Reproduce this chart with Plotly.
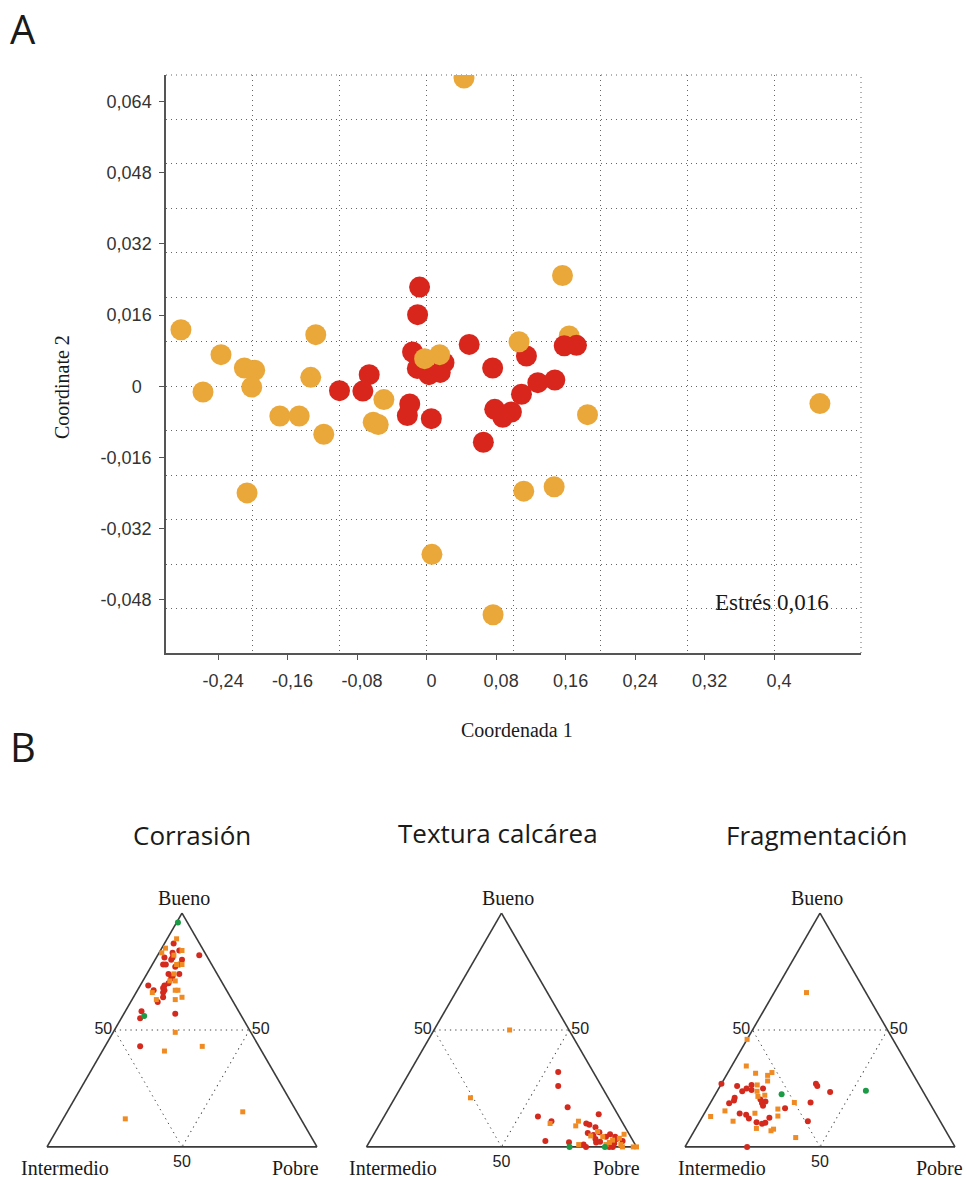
import plotly.graph_objects as go

W, H = 966, 1178

# ---------------- Panel A: MDS (Coordenada 1 / Coordinate 2) ----------------
# draw order matters for overlaps: reds, then oranges, then the two reds that sit on top
mds_grupo = (["rojo"] * 23) + (["naranja"] * 27) + (["rojo"] * 2)
mds_coord1 = [
    -0.1003, -0.0734, -0.0661, -0.0194, -0.0222, 0.0054, -0.0104, -0.0081,
    -0.0162, -0.0107, 0.0027, 0.0157, 0.0200, 0.0490, 0.0760, 0.1149,
    0.1280, 0.1476, 0.1092, 0.0784, 0.0976, 0.0876, 0.0653,
    -0.2828, -0.2367, -0.2574, -0.2098, -0.1979, -0.2013, -0.1690, -0.1467,
    -0.1334, -0.1276, -0.1184, -0.2067, -0.0492, -0.0615, -0.0557, 0.0061,
    -0.0023, 0.0150, 0.1064, 0.1641, 0.1852, 0.4527, 0.1118, 0.1468,
    0.0765, 0.1564, 0.0430,
    0.1584, 0.1725,
]
mds_coord2 = [
    -0.0010, -0.0011, 0.0026, -0.0040, -0.0066, -0.0073, 0.0161, 0.0223,
    0.0077, 0.0040, 0.0026, 0.0031, 0.0053, 0.0094, 0.0041, 0.0068,
    0.0008, 0.0014, -0.0018, -0.0052, -0.0058, -0.0070, -0.0126,
    0.0127, 0.0071, -0.0013, 0.0041, 0.0036, -0.0002, -0.0067, -0.0067,
    0.0020, 0.0116, -0.0108, -0.0240, -0.0030, -0.0081, -0.0086, -0.0378,
    0.0062, 0.0071, 0.0100, 0.0113, -0.0064, -0.0039, -0.0236, -0.0226,
    -0.0514, 0.0249, 0.0693,
    0.0091, 0.0092,
]
x_tickvals = [-0.24, -0.16, -0.08, 0, 0.08, 0.16, 0.24, 0.32, 0.4]
x_ticktext = ["-0,24", "-0,16", "-0,08", "0", "0,08", "0,16", "0,24", "0,32", "0,4"]
y_tickvals = [-0.048, -0.032, -0.016, 0, 0.016, 0.032, 0.048, 0.064]
y_ticktext = ["-0,048", "-0,032", "-0,016", "0\u00a0\u00a0", "0,016", "0,032", "0,048", "0,064"]
x_range = [-0.30, 0.50]
y_range = [-0.06, 0.07]
x_grid_step = 0.1
y_grid_step = 0.01
estres_text = "Estrés 0,016"

mds_colores = {"rojo": "#D9261C", "naranja": "#EAA83A"}

# ---------------- Panel B: ternary diagrams (Bueno, Intermedio, Pobre) ----------------
corrasion_rojo = [
    (87, 9.6, 3.4), (82, 2.6, 15.4), (84, 9, 7), (83, 12, 5), (80, 10, 10), (81, 16, 3),
    (78, 18, 4), (81, 13, 6), (80, 14, 6), (78, 12, 10), (77, 14, 9), (78, 17, 5),
    (74, 14, 12), (74, 18, 8), (73, 17, 10), (72, 18, 10), (70, 20, 10), (69, 22, 9),
    (69, 28, 3), (67, 27, 6), (68, 23, 9), (67, 23, 10), (66, 24, 10), (62, 28, 10),
    (64, 25, 11), (57, 24, 19), (58, 36, 6), (55, 38, 7), (43, 44, 13),
]
corrasion_naranja = [
    (89, 7.5, 3.5), (85, 13.6, 1.4), (83, 16, 1), (84, 8, 8), (82, 12, 6), (78, 11, 11),
    (78, 13, 9), (74, 16, 10), (71, 19, 10), (71, 17, 12), (67, 19, 14), (67, 18, 15),
    (66, 28, 6), (63, 28, 9), (63, 21, 16), (64, 18, 18), (49, 28, 23), (41, 36, 23),
    (43, 21, 36), (12, 65, 23), (15, 20, 65),
]
corrasion_verde = [(96, 3.5, 0.5), (56, 36, 8)]

textura_rojo = [
    (32, 13, 55), (26, 16, 58), (17, 17, 66), (13, 30, 57), (11, 26, 63), (14, 7, 79),
    (2.5, 32.5, 65), (2, 24, 74), (10, 13.6, 76.4), (9.5, 12.7, 77.8), (8.4, 11, 80.6),
    (6.3, 10.6, 83.1), (5.9, 15.1, 79), (5.1, 13.4, 81.5), (3.4, 13.5, 83.1), (1.9, 14, 84.1),
    (4.4, 9.1, 86.5), (5.4, 7.1, 87.5), (4.4, 5.7, 89.9), (3.4, 5.7, 90.9), (2.5, 3.9, 93.6),
    (1.5, 7.5, 91), (1, 19.1, 79.9), (0, 18.7, 81.3), (0, 10.1, 89.9), (0, 8.8, 91.2),
    (2.2, 12.4, 85.4),
]
textura_naranja = [
    (50, 22, 28), (21, 51, 28), (10, 27, 63), (11, 16, 73), (9, 18, 73), (6.6, 11.1, 82.3),
    (4.7, 14.6, 80.7), (4.4, 10.3, 85.3), (2.9, 7.4, 89.7), (3.7, 4.5, 91.8), (5.4, 1.9, 92.7),
    (1, 5.3, 93.7), (1.9, 9.1, 89), (1, 20.9, 78.1), (0, 5.2, 94.8), (0, 1.2, 98.8),
    (0, 0, 100), (1, 10.8, 88.2),
]
textura_verde = [(0, 24.8, 75.2), (0, 11.7, 88.3)]

frag_rojo = [
    (27, 73, 0), (26, 67.7, 6.3), (23.8, 66.9, 9.3), (25, 64.7, 10.3), (26.5, 62.1, 11.4),
    (24.3, 63.2, 12.5), (25, 58.6, 16.4), (20.3, 61.9, 17.8), (18.8, 62.1, 19.1),
    (19.4, 60.5, 20.1), (17.6, 62.3, 20.1), (21, 71.1, 7.9), (19.9, 71.9, 8.2),
    (18.7, 74.3, 7), (14.3, 72.6, 13.1), (14, 71.9, 16.1), (12.1, 70.3, 17.6),
    (10.6, 68.2, 21.2), (9.9, 66.5, 23.6), (10.3, 65.1, 24.6), (12.5, 62.5, 25),
    (27, 38, 35), (26, 38, 36), (23.5, 34.5, 42), (19, 44, 37), (11, 49, 40),
    (16.5, 54.7, 28.8), (0, 77, 23),
]
frag_naranja = [
    (66, 22, 12), (46, 54, 0), (34.6, 60, 5.4), (31.5, 58.1, 10.4), (30.6, 54.1, 15.3),
    (31.8, 51.9, 16.3), (28.2, 55.3, 16.5), (26.5, 60, 13.5), (23.8, 61.4, 14.8),
    (22.1, 59.4, 18.5), (21.6, 62.2, 16.2), (15.4, 77.5, 7.1), (14.4, 66.9, 18.7),
    (11, 76.7, 12.3), (7.9, 69.6, 22.5), (6.9, 64.7, 28.4), (7.6, 63.4, 29),
    (13.2, 59, 27.8), (16.2, 57.5, 26.3), (19, 50, 31), (4, 57, 39), (13, 84, 3),
]
frag_verde = [(24, 21, 55), (23, 54, 25)]

ternary_titles = ["Corrasión", "Textura calcárea", "Fragmentación"]
vertex_labels = ["Bueno", "Intermedio", "Pobre"]
ternary_tickvals = [50]
ternary_ticktext = ["50"]

tern_estilos = {
    "rojo": dict(color="#D42A1E", symbol="circle", size=6),
    "naranja": dict(color="#F08A22", symbol="square", size=5),
    "verde": dict(color="#1C9A45", symbol="circle", size=6),
}

SERIF = "Liberation Serif, Times New Roman, serif"
SANS = "Liberation Sans, Arial, sans-serif"
HAND = "Open Sans, sans-serif"


def px_x(px):
    return px / W


def px_y(py):
    return 1 - py / H


fig = go.Figure()

fig.add_trace(go.Scatter(
    x=mds_coord1, y=mds_coord2, mode="markers",
    marker=dict(size=21, color=[mds_colores[g] for g in mds_grupo], line=dict(width=0)),
    xaxis="x", yaxis="y", showlegend=False, hoverinfo="skip",
))
# empty trace on the overlay axes that carry the dotted grid
fig.add_trace(go.Scatter(x=[], y=[], xaxis="x2", yaxis="y2", showlegend=False, hoverinfo="skip"))

paneles = [
    ("ternary", corrasion_rojo, corrasion_naranja, corrasion_verde),
    ("ternary2", textura_rojo, textura_naranja, textura_verde),
    ("ternary3", frag_rojo, frag_naranja, frag_verde),
]
for sub, rojo, naranja, verde in paneles:
    for nombre, datos in (("rojo", rojo), ("naranja", naranja), ("verde", verde)):
        est = tern_estilos[nombre]
        fig.add_trace(go.Scatterternary(
            a=[p[0] for p in datos], b=[p[1] for p in datos], c=[p[2] for p in datos],
            mode="markers", subplot=sub, cliponaxis=False,
            marker=dict(size=est["size"], color=est["color"], symbol=est["symbol"], line=dict(width=0)),
            showlegend=False, hoverinfo="skip",
        ))

tick_font = dict(size=18, family=SANS, color="#333333")
grid_dash = "1px,4px"
grid_color = "#666666"

xdom = [px_x(166), px_x(861)]
ydom = [px_y(653), px_y(75)]


def tern_axis():
    return dict(
        title=dict(text=""), tickmode="array", tickvals=ternary_tickvals, ticktext=ternary_ticktext,
        showgrid=True, gridcolor="#444444", griddash="1.3px,4px", gridwidth=1.3,
        showline=True, linecolor="#3a3a3a", linewidth=1.6, ticks="",
        tickfont=dict(size=16, family=SANS, color="#222222"), min=0, layer="below traces",
    )


tern_x = [(47, 317), (366.5, 636.5), (685, 955)]
tern_top, tern_bot = 913, 1147

layout_terns = {}
for i, sub in enumerate(["ternary", "ternary2", "ternary3"]):
    layout_terns[sub] = dict(
        domain=dict(x=[px_x(tern_x[i][0]), px_x(tern_x[i][1])], y=[px_y(tern_bot), px_y(tern_top)]),
        sum=100, bgcolor="white",
        aaxis=tern_axis(), baxis=tern_axis(), caxis=tern_axis(),
    )


def ann(text, x, y, size, family, **kw):
    d = dict(text=text, x=px_x(x), y=px_y(y), xref="paper", yref="paper", showarrow=False,
             font=dict(size=size, family=family, color="#1a1a1a"), xanchor="center", yanchor="middle")
    d.update(kw)
    return d


annotations = [
    ann("A", 23, 28, 40, HAND),
    ann("B", 23, 746, 40, HAND),
    ann("Coordinate 2", 62, 387, 20, SERIF, textangle=-90),
    ann("Coordenada 1", 517, 730, 20, SERIF),
    ann(estres_text, 772, 602, 23, SERIF),
]
title_pos = [(192, 835), (498, 833), (817, 835)]
for t, (x, y) in zip(ternary_titles, title_pos):
    annotations.append(ann(t, x, y, 26, HAND))
bueno_x = [184, 508, 817]
inter_x = [65, 393, 722]
pobre_x = [295, 616, 939]
for i in range(3):
    annotations.append(ann(vertex_labels[0], bueno_x[i], 898, 20, SERIF))
    annotations.append(ann(vertex_labels[1], inter_x[i], 1168, 20, SERIF))
    annotations.append(ann(vertex_labels[2], pobre_x[i], 1168, 20, SERIF))

# dotted frame on the top and right of the MDS plot (continuation of the dotted grid)
frame_shapes = [
    dict(type="line", xref="x domain", yref="y domain", x0=0, x1=1, y0=1, y1=1,
         line=dict(color=grid_color, width=1, dash=grid_dash), layer="below"),
    dict(type="line", xref="x domain", yref="y domain", x0=1, x1=1, y0=0, y1=1,
         line=dict(color=grid_color, width=1, dash=grid_dash), layer="below"),
]

fig.update_layout(
    width=W, height=H, margin=dict(l=0, r=0, t=0, b=0),
    paper_bgcolor="white", plot_bgcolor="white",
    xaxis=dict(domain=xdom, range=x_range, anchor="y", tickmode="array",
               tickvals=x_tickvals, ticktext=x_ticktext, showgrid=False, zeroline=False,
               showline=True, linecolor="#555555", linewidth=1.5, ticks="outside", ticklen=5,
               tickcolor="#555555", tickwidth=1.2, tickfont=tick_font, ticklabelstandoff=6,
               ticklabelshift=5),
    yaxis=dict(domain=ydom, range=y_range, anchor="x", tickmode="array",
               tickvals=y_tickvals, ticktext=y_ticktext, showgrid=False, zeroline=False,
               showline=True, linecolor="#555555", linewidth=1.5, ticks="outside", ticklen=5,
               tickcolor="#555555", tickwidth=1.2, tickfont=tick_font, ticklabelstandoff=4),
    xaxis2=dict(overlaying="x", anchor="y2", range=x_range, tickmode="linear", tick0=0,
                dtick=x_grid_step, showgrid=True, gridcolor=grid_color, griddash=grid_dash,
                gridwidth=1, showticklabels=False, ticks="", zeroline=False, showline=False),
    yaxis2=dict(overlaying="y", anchor="x2", range=y_range, tickmode="linear", tick0=0,
                dtick=y_grid_step, showgrid=True, gridcolor=grid_color, griddash=grid_dash,
                gridwidth=1, showticklabels=False, ticks="", zeroline=False, showline=False),
    annotations=annotations,
    shapes=frame_shapes,
    **layout_terns,
)

fig.write_html("out.html")
